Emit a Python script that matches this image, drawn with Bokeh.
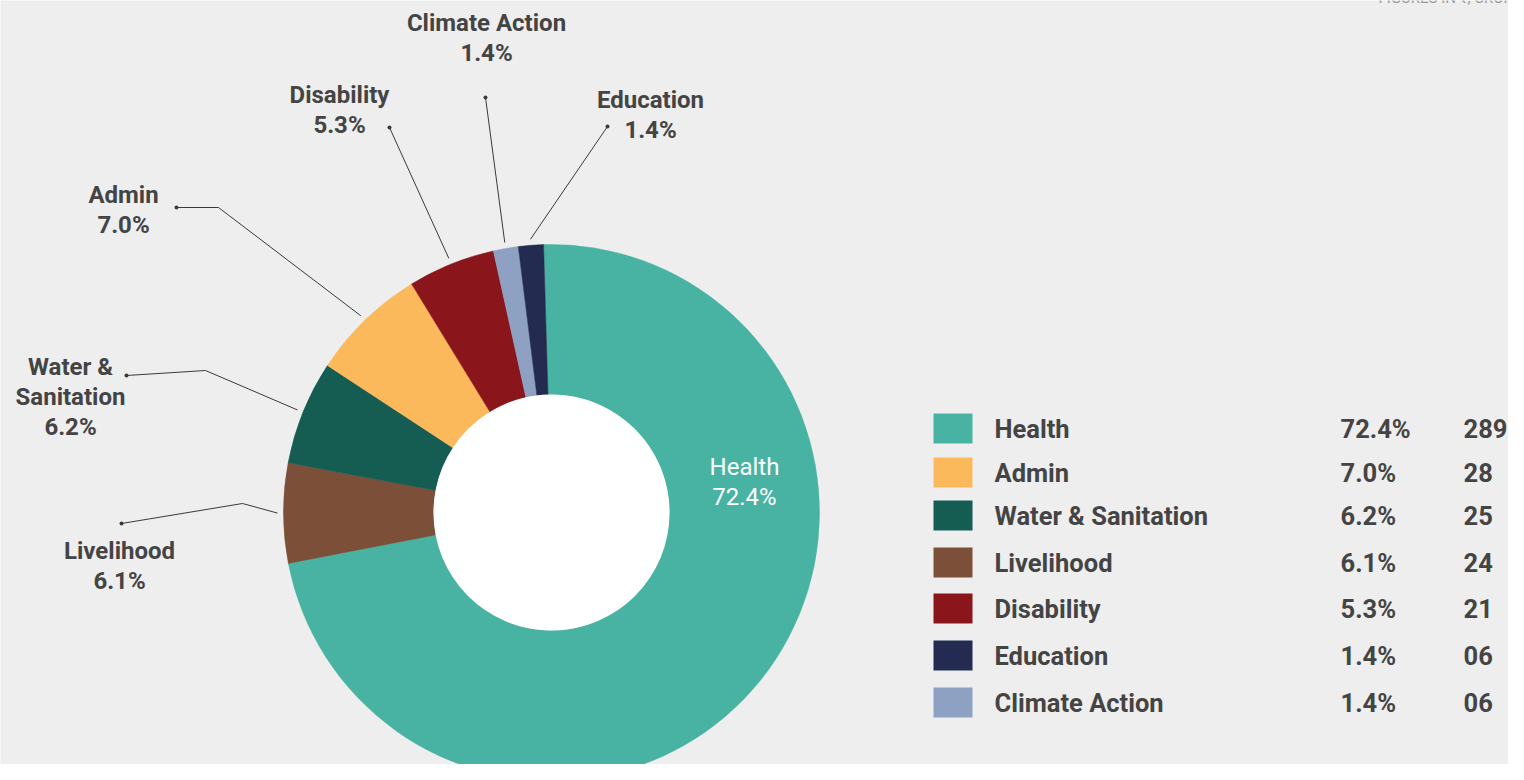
import numpy as np
from bokeh.plotting import figure
from bokeh.models import Range1d, ColumnDataSource
from bokeh.core.properties import value
from bokeh.embed import file_html
from bokeh.resources import INLINE

# ---------------- data ----------------
# ring order, clockwise from the top
ring_categories = ["Health", "Livelihood", "Water & Sanitation", "Admin", "Disability", "Climate Action", "Education"]
ring_amounts = [289, 24, 25, 28, 21, 6, 6]
ring_percents = ["72.4%", "6.1%", "6.2%", "7.0%", "5.3%", "1.4%", "1.4%"]

# legend order
legend_categories = ["Health", "Admin", "Water & Sanitation", "Livelihood", "Disability", "Education", "Climate Action"]
legend_percents = ["72.4%", "7.0%", "6.2%", "6.1%", "5.3%", "1.4%", "1.4%"]
legend_amounts = ["289", "28", "25", "24", "21", "06", "06"]

palette = {
    "Health": "#48b3a3",
    "Admin": "#fbb95c",
    "Water & Sanitation": "#155c53",
    "Livelihood": "#7c4f38",
    "Disability": "#8a161c",
    "Education": "#232b50",
    "Climate Action": "#8fa1c2",
}

# ---------------- layout / style ----------------
W, H = 1508, 764
BG = "#eeeeee"
TXT = "#444444"
FONT = value("Roboto")
CX, CY = 551, 512          # donut centre (picture pixels)
R_OUT, R_IN = 268, 118
START_OFFSET = 1.7         # degrees counter-clockwise of 12 o'clock where ring starts
LEADER_R = 274


def Y(py):
    return 780 - py


p = figure(width=W, height=H, x_range=Range1d(0, W), y_range=Range1d(780 - H, 780),
           x_axis_type=None, y_axis_type=None, output_backend="svg",
           toolbar_location=None, min_border=0)
p.grid.visible = False
p.outline_line_color = None
p.background_fill_color = BG
p.border_fill_color = BG

# ---------------- donut ----------------
amt = np.array(ring_amounts, dtype=float)
frac = amt / amt.sum()
cum = np.concatenate([[0], np.cumsum(frac)])
cw_start = -START_OFFSET + cum[:-1] * 360.0   # clockwise-from-top degrees
cw_end = -START_OFFSET + cum[1:] * 360.0
cw_mid = (cw_start + cw_end) / 2
start_rad = np.deg2rad(90 - cw_start)
end_rad = np.deg2rad(90 - cw_end)

src = ColumnDataSource(dict(
    start=start_rad, end=end_rad,
    color=[palette[c] for c in ring_categories],
    name=ring_categories,
))
p.annular_wedge(x=CX, y=Y(CY), inner_radius=R_IN, outer_radius=R_OUT,
                start_angle="start", end_angle="end", direction="clock",
                fill_color="color", line_color="color", line_width=0.5, source=src)
p.circle(x=[CX], y=[Y(CY)], radius=R_IN, fill_color="white", line_color=None)

# Health label inside the ring
p.text(x=[744, 744], y=[Y(466), Y(496)], text=["Health", ring_percents[0]],
       text_color="white", text_font=FONT, text_font_size="24px",
       text_font_style="normal", text_align="center", text_baseline="middle")

# ---------------- outside labels with leaders ----------------
label_layout = {
    # name lines, centre x, first line y, dot, elbow
    "Climate Action": (["Climate Action"], 486, 22, (485, 97), None),
    "Education": (["Education"], 650, 99, (607, 126), None),
    "Disability": (["Disability"], 339, 94, (389, 127), None),
    "Admin": (["Admin"], 123, 194, (176, 207), (218, 207)),
    "Water & Sanitation": (["Water &", "Sanitation"], 70, 366, (126, 375), (205, 370)),
    "Livelihood": (["Livelihood"], 119, 550, (121, 523), (242, 503)),
}

tx, ty, tt = [], [], []
lx, ly = [], []
dx, dy = [], []
for i, cat in enumerate(ring_categories):
    if cat not in label_layout:
        continue
    lines, cx, y0, dot, elbow = label_layout[cat]
    lines = lines + [ring_percents[i]]
    for k, s in enumerate(lines):
        tx.append(cx)
        ty.append(Y(y0 + 30 * k))
        tt.append(s)
    th = np.deg2rad(cw_mid[i])
    ex = CX + LEADER_R * np.sin(th)
    ey = CY - LEADER_R * np.cos(th)
    pts = [dot] + ([elbow] if elbow else []) + [(ex, ey)]
    lx.append([q[0] for q in pts])
    ly.append([Y(q[1]) for q in pts])
    dx.append(dot[0])
    dy.append(Y(dot[1]))

p.multi_line(xs=lx, ys=ly, line_color="#3a3a3a", line_width=1)
p.scatter(x=dx, y=dy, size=4, fill_color="#3a3a3a", line_color=None)
p.text(x=tx, y=ty, text=tt, text_color=TXT, text_font=FONT, text_font_size="24px",
       text_font_style="bold", text_align="center", text_baseline="middle")

# ---------------- legend table ----------------
row_y = [428, 472, 515, 562, 608, 655, 702]
p.rect(x=[952.5] * len(row_y), y=[Y(v) for v in row_y], width=39, height=30,
       fill_color=[palette[c] for c in legend_categories], line_color=None)
ly_txt = [Y(v) for v in row_y]
p.text(x=[994] * 7, y=ly_txt, text=legend_categories, text_color=TXT, text_font=FONT,
       text_font_size="25.5px", text_font_style="bold", text_align="left", text_baseline="middle")
p.text(x=[1340] * 7, y=ly_txt, text=legend_percents, text_color=TXT, text_font=FONT,
       text_font_size="25.5px", text_font_style="bold", text_align="left", text_baseline="middle")
p.text(x=[1463] * 7, y=ly_txt, text=legend_amounts, text_color=TXT, text_font=FONT,
       text_font_size="25.5px", text_font_style="bold", text_align="left", text_baseline="middle")

# top-right note (mostly cut off in the source)
p.text(x=[1378], y=[Y(6)], text=["FIGURES IN ₹, CRORE"], text_color="#9a9a9a",
       text_font=FONT, text_font_size="15px", text_align="left", text_baseline="bottom")

open("out.html", "w").write(file_html(p, INLINE))
